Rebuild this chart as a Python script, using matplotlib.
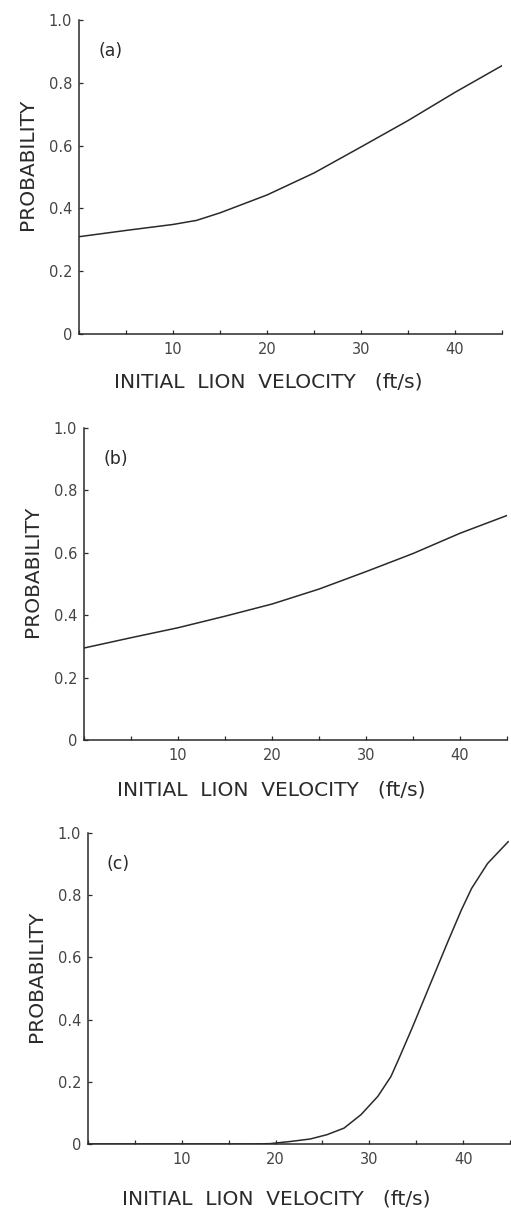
import numpy as np
import matplotlib
matplotlib.use("Agg")
import matplotlib.pyplot as plt
from matplotlib.ticker import MultipleLocator, FixedLocator

# initial lion velocity (ft/s) and capture probability for the three cases
vel_a = [0, 5, 10, 12.5, 15, 20, 25, 30, 35, 40, 45]
prob_a = [0.31, 0.33, 0.349, 0.362, 0.386, 0.443, 0.513, 0.596, 0.68, 0.77, 0.855]

vel_b = [0, 5, 10, 15, 20, 25, 30, 35, 40, 45]
prob_b = [0.295, 0.328, 0.36, 0.397, 0.436, 0.484, 0.54, 0.598, 0.663, 0.72]

vel_c = [0, 5, 10, 15, 17.5, 19.4, 21.6, 23.7, 25.5, 27.3, 29.1, 30.9, 32.3, 33.2,
         34.6, 36.6, 38.4, 39.8, 40.9, 42.6, 44.8]
prob_c = [0, 0, 0, 0, 0, 0.001, 0.008, 0.016, 0.030, 0.051, 0.094, 0.153, 0.217, 0.278,
          0.376, 0.522, 0.653, 0.752, 0.822, 0.902, 0.972]

panel_tags = ["(a)", "(b)", "(c)"]
y_ticks = [0, 0.2, 0.4, 0.6, 0.8, 1.0]
y_ticklabels = ["0", "0.2", "0.4", "0.6", "0.8", "1.0"]
x_ticks = [10, 20, 30, 40]
x_ticklabels = ["10", "20", "30", "40"]

ink = "#2a2a2a"
soft = "#444444"
plt.rcParams["font.family"] = ["DejaVu Sans"]

fig = plt.figure(figsize=(5.11, 12.09), dpi=100)
# axes boxes in figure fractions (left, bottom, width, height)
boxes = [
    [0.1546, 0.7237, 0.828, 0.2597],
    [0.1644, 0.3879, 0.828, 0.2580],
    [0.1722, 0.0538, 0.826, 0.2572],
]
# x-label anchor (axes fraction) for each panel
xlab_pos = [(0.447, -0.124), (0.442, -0.131), (0.447, -0.148)]
series = [(vel_a, prob_a), (vel_b, prob_b), (vel_c, prob_c)]

for box, (vx, py), tag, xl in zip(boxes, series, panel_tags, xlab_pos):
    ax = fig.add_axes(box)
    ax.plot(vx, py, color=ink, lw=1.1, solid_joinstyle="round")
    ax.set_xlim(0, 45)
    ax.set_ylim(0, 1.0)
    for s in ["top", "right"]:
        ax.spines[s].set_visible(False)
    for s in ["left", "bottom"]:
        ax.spines[s].set_color(ink)
        ax.spines[s].set_linewidth(1.1)

    ax.xaxis.set_major_locator(FixedLocator(x_ticks))
    ax.set_xticklabels(x_ticklabels)
    ax.xaxis.set_minor_locator(MultipleLocator(5))
    ax.yaxis.set_major_locator(FixedLocator(y_ticks))
    ax.set_yticklabels(y_ticklabels)
    ax.tick_params(axis="both", which="both", direction="in", length=3,
                   width=0.9, color=ink, labelcolor=soft, labelsize=10.5)
    ax.tick_params(axis="x", pad=6)
    ax.tick_params(axis="y", pad=5)

    ax.text(0.045, 0.90, tag, transform=ax.transAxes, fontsize=12.5,
            color=ink, va="center", ha="left")
    ax.set_ylabel("PROBABILITY", fontsize=14.5, color=ink)
    ax.yaxis.set_label_coords(-0.10, 0.54)
    ax.set_xlabel("INITIAL  LION  VELOCITY   (ft/s)", fontsize=14.5, color=ink)
    ax.xaxis.set_label_coords(*xl)

fig.savefig("out.png", dpi=100, facecolor="white")
